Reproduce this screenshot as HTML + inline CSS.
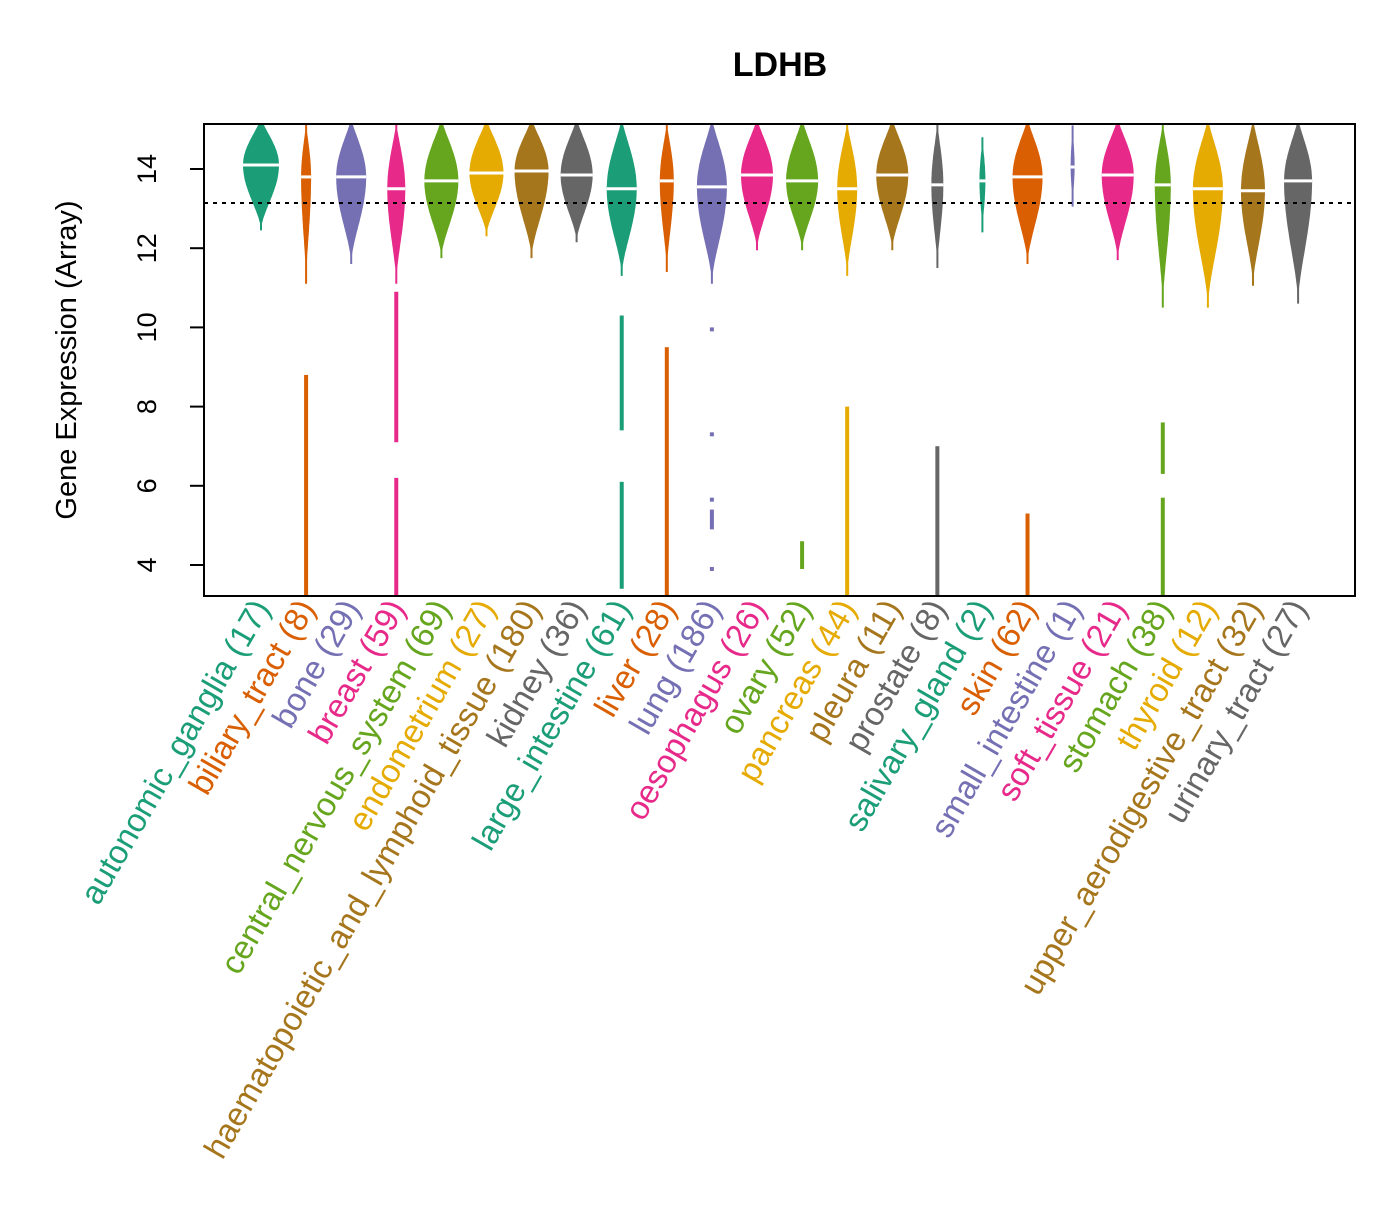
<!DOCTYPE html>
<html><head><meta charset="utf-8"><style>
body{margin:0;background:#fff}
svg{font-family:"Liberation Sans",Arial,sans-serif}
</style></head><body>
<svg id="chart" width="1400" height="1200" viewBox="0 0 1400 1200" xmlns="http://www.w3.org/2000/svg">
<defs><clipPath id="pc"><rect x="204" y="124" width="1151" height="472"/></clipPath></defs>
<text x="780" y="76" text-anchor="middle" font-size="34" font-weight="bold">LDHB</text>
<text transform="translate(76,360) rotate(-90)" text-anchor="middle" font-size="29">Gene Expression (Array)</text>
<g id="yaxis"></g>
<g id="marks" clip-path="url(#pc)"></g>
<line x1="204" x2="1355" y1="203" y2="203" stroke="#000" stroke-width="2" stroke-dasharray="4,5"/>
<rect x="204" y="124" width="1151" height="472" fill="none" stroke="#000" stroke-width="2"/>
<g id="labels"></g>
</svg>
<script>
const categories=["autonomic_ganglia (17)","biliary_tract (8)","bone (29)","breast (59)","central_nervous_system (69)","endometrium (27)","haematopoietic_and_lymphoid_tissue (180)","kidney (36)","large_intestine (61)","liver (28)","lung (186)","oesophagus (26)","ovary (52)","pancreas (44)","pleura (11)","prostate (8)","salivary_gland (2)","skin (62)","small_intestine (1)","soft_tissue (21)","stomach (38)","thyroid (12)","upper_aerodigestive_tract (32)","urinary_tract (27)"];
const medians=[14.1,13.8,13.8,13.5,13.7,13.9,13.95,13.85,13.5,13.7,13.55,13.85,13.7,13.5,13.85,13.6,13.7,13.8,14.05,13.85,13.6,13.5,13.45,13.7];
const maxes=[15.3,15.2,15.3,15.2,15.3,15.3,15.3,15.3,15.3,15.2,15.3,15.3,15.3,15.2,15.3,15.2,14.8,15.3,15.1,15.3,15.2,15.3,15.3,15.3];
const bodyLows=[12.45,11.1,11.6,11.1,11.75,12.3,11.75,12.15,11.3,11.4,11.1,11.95,11.95,11.3,11.95,11.5,12.4,11.6,13.05,11.7,10.5,10.5,11.05,10.6];
const widths=[18,5,15,9,17,17,17,16,15,7,15,16,16,10,16,6,3,15,2,16,8,15,12,14];
const tails=[[],[[3.2,8.8]],[],[[3.2,6.2],[7.1,10.9]],[],[],[],[],[[3.4,6.1],[7.4,10.3]],[[3.2,9.5]],[[9.9,10.0],[7.25,7.35],[5.6,5.7],[4.9,5.4],[3.85,3.95]],[],[[3.9,4.6]],[[3.2,8.0]],[],[[3.2,7.0]],[],[[3.2,5.3]],[],[],[[3.2,5.7],[6.3,7.6]],[],[],[]];
const colors=["#1B9E77","#D95F02","#7570B3","#E7298A","#66A61E","#E6AB02","#A6761D","#666666"];
const yTicks=[4,6,8,10,12,14];
const NS="http://www.w3.org/2000/svg";
function yS(v){return 169+(14-v)*39.6;}
function xS(i){return 261+i*45.09;}
const marks=document.getElementById('marks');
const yaxis=document.getElementById('yaxis');
yaxis.innerHTML='<line x1="204" x2="204" y1="'+yS(4)+'" y2="'+yS(14)+'" stroke="#000" stroke-width="2"/>';
yTicks.forEach(t=>{
  const l=document.createElementNS(NS,'line');
  l.setAttribute('x1',190);l.setAttribute('x2',204);l.setAttribute('y1',yS(t));l.setAttribute('y2',yS(t));l.setAttribute('stroke','#000');l.setAttribute('stroke-width',2);
  
  
  yaxis.appendChild(l);
  const tx=document.createElementNS(NS,'text');
  tx.setAttribute('transform','translate(156,'+yS(t)+') rotate(-90)');tx.setAttribute('text-anchor','middle');tx.setAttribute('font-size','27');tx.textContent=t;
  
  
  yaxis.appendChild(tx);
});
categories.forEach((c,i)=>{
  const x=xS(i),col=colors[i%8],m=medians[i],top=maxes[i],lo=bodyLows[i],w=widths[i];
  const g=document.createElementNS(NS,'g');
  
  
  const left=[],right=[];
  const N=40;
  for(let k=0;k<=N;k++){const v=top-(top-m)*k/N;const f=Math.pow(Math.sin(Math.PI/2*k/N),1.3);const hw=Math.max(1,w*f);left.push([x-hw,yS(v)]);right.push([x+hw,yS(v)]);}
  for(let k=1;k<=N;k++){const v=m-(m-lo)*k/N;const f=Math.pow(Math.cos(Math.PI/2*k/N),1.6);const hw=Math.max(1,w*f);left.push([x-hw,yS(v)]);right.push([x+hw,yS(v)]);}
  const pts=left.concat(right.reverse()).map(p=>p[0].toFixed(1)+','+p[1].toFixed(1)).join(' ');
  const pg=document.createElementNS(NS,'polygon');pg.setAttribute('points',pts);pg.setAttribute('fill',col);
  
  
  g.appendChild(pg);
  tails[i].forEach(s=>{
    const r=document.createElementNS(NS,'rect');
    r.setAttribute('x',x-2);r.setAttribute('width',4);r.setAttribute('y',yS(s[1]));r.setAttribute('height',Math.max(2,yS(s[0])-yS(s[1])));r.setAttribute('fill',col);
    
    
    g.appendChild(r);
  });
  const ml=document.createElementNS(NS,'line');
  ml.setAttribute('x1',x-w);ml.setAttribute('x2',x+w);ml.setAttribute('y1',yS(m));ml.setAttribute('y2',yS(m));ml.setAttribute('stroke','#fff');ml.setAttribute('stroke-width',3);
  
  
  g.appendChild(ml);
  marks.appendChild(g);
  const t=document.createElementNS(NS,'text');
  t.setAttribute('transform','translate('+(x+10)+',608) rotate(-60)');t.setAttribute('text-anchor','end');t.setAttribute('font-size','33');t.setAttribute('fill',col);t.textContent=c;
  
  
  document.getElementById('labels').appendChild(t);
});
</script>
</body></html>
